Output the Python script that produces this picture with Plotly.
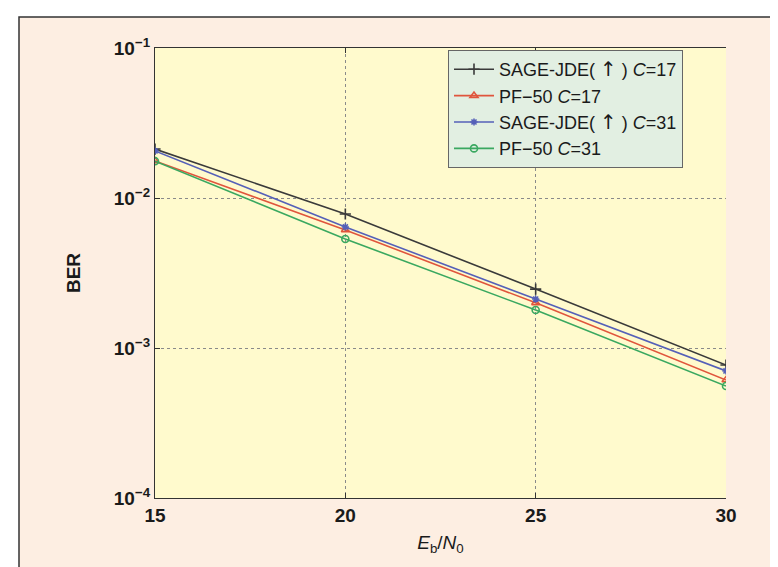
import plotly.graph_objects as go

ebn0 = [15, 20, 25, 30]
sage_c17 = [0.0212, 0.00782, 0.00247, 0.00077]
pf_c17 = [0.01765, 0.00612, 0.00200, 0.000612]
sage_c31 = [0.0206, 0.00641, 0.00212, 0.000703]
pf_c31 = [0.0176, 0.00533, 0.00179, 0.000558]

arrow = "(\u00a0<span style='font-family:DejaVu Sans;font-size:20px'>\u2191</span>\u00a0)"
names = ["SAGE-JDE" + arrow + " <i>C</i>=17", "PF\u221250 <i>C</i>=17",
         "SAGE-JDE" + arrow + " <i>C</i>=31", "PF\u221250 <i>C</i>=31"]
series = [sage_c17, pf_c17, sage_c31, pf_c31]
colors = ["#3a3a3a", "#e0553c", "#5560b8", "#3aa860"]
symbols = ["cross-thin-open", "triangle-up-open", "asterisk-open", "circle-open"]
sizes = [8, 7, 6, 7]

x_ticks = [15, 20, 25, 30]
y_ticks = [1e-4, 1e-3, 1e-2, 1e-1]
y_ticktext = ["10<sup>\u22124</sup>", "10<sup>\u22123</sup>",
              "10<sup>\u22122</sup>", "10<sup>\u22121</sup>"]

fig = go.Figure()
for n, s, c, m, sz in zip(names, series, colors, symbols, sizes):
    fig.add_trace(go.Scatter(x=ebn0, y=s, name=n, mode="lines+markers",
                             line=dict(color=c, width=1.6),
                             marker=dict(symbol=m, size=sz, color=c, line=dict(color=c, width=1.6))))

L, R, T, B = 147, 60, 40, 77
W, H = 778, 567
pw, ph = W - L - R, H - T - B
def px(x):
    return (x - L) / pw
def py(y):
    return (H - B - y) / ph

fig.update_layout(
    width=W, height=H,
    margin=dict(l=L, r=R, t=T, b=B),
    paper_bgcolor="white",
    plot_bgcolor="#fffacd",
    font=dict(family="Liberation Sans, Arial, sans-serif", size=16, color="#1a1a1a"),
    shapes=[
        dict(type="rect", xref="paper", yref="paper", x0=px(11), x1=px(776.5), y0=py(590), y1=py(9),
             fillcolor="#fdeee2", line=dict(color="#333333", width=1.5), layer="below"),
        dict(type="rect", xref="paper", yref="paper", x0=0, x1=1, y0=0, y1=1,
             fillcolor="#fffacd", line=dict(width=0), layer="below"),
    ],
    legend=dict(x=px(440), y=py(42), xanchor="left", yanchor="top",
                bgcolor="#e2efe2", bordercolor="#666666", borderwidth=1,
                font=dict(size=18, color="#1a1a1a"), tracegroupgap=0,
                itemwidth=40),
    showlegend=True,
)
fig.update_xaxes(range=[15, 30], tickvals=x_ticks,
                 tickfont=dict(size=19, weight="bold"),
                 showline=True, linecolor="#333333", linewidth=1.2, mirror="ticks",
                 ticks="inside", ticklen=5, tickcolor="#333333",
                 showgrid=True, gridcolor="#8a8a8a", griddash="dot", gridwidth=1,
                 zeroline=False,
                 title=dict(text="<i>E</i><sub>b</sub>/<i>N</i><sub>0</sub>", standoff=10,
                            font=dict(size=19)))
fig.update_yaxes(type="log", range=[-4, -1], tickvals=y_ticks, ticktext=y_ticktext,
                 tickfont=dict(size=19, weight="bold"),
                 showline=True, linecolor="#333333", linewidth=1.2,
                 ticks="inside", ticklen=5, tickcolor="#333333",
                 showgrid=True, gridcolor="#8a8a8a", griddash="dot", gridwidth=1,
                 zeroline=False,
                 title=dict(text="BER", standoff=28, font=dict(size=19, weight="bold")))

fig.write_html("out.html")
